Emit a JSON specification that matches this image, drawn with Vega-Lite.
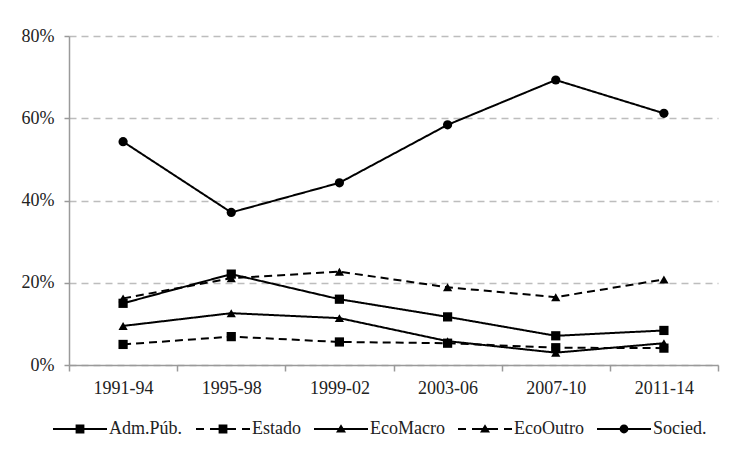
{
  "$schema": "https://vega.github.io/schema/vega-lite/v6.json",
  "width": 649,
  "height": 329,
  "autosize": {"type": "none"},
  "padding": {"left": 69, "top": 36, "right": 13, "bottom": 84},
  "background": "white",
  "config": {"view": {"stroke": null}, "font": "Liberation Serif"},
  "data": {
    "values": [
      {"period": "1991-94", "series": "Adm.Púb.", "value": 0.150},
      {"period": "1995-98", "series": "Adm.Púb.", "value": 0.221},
      {"period": "1999-02", "series": "Adm.Púb.", "value": 0.160},
      {"period": "2003-06", "series": "Adm.Púb.", "value": 0.117},
      {"period": "2007-10", "series": "Adm.Púb.", "value": 0.071},
      {"period": "2011-14", "series": "Adm.Púb.", "value": 0.084},
      {"period": "1991-94", "series": "Estado", "value": 0.050},
      {"period": "1995-98", "series": "Estado", "value": 0.069},
      {"period": "1999-02", "series": "Estado", "value": 0.056},
      {"period": "2003-06", "series": "Estado", "value": 0.053},
      {"period": "2007-10", "series": "Estado", "value": 0.042},
      {"period": "2011-14", "series": "Estado", "value": 0.041},
      {"period": "1991-94", "series": "EcoMacro", "value": 0.095},
      {"period": "1995-98", "series": "EcoMacro", "value": 0.126},
      {"period": "1999-02", "series": "EcoMacro", "value": 0.114},
      {"period": "2003-06", "series": "EcoMacro", "value": 0.058},
      {"period": "2007-10", "series": "EcoMacro", "value": 0.030},
      {"period": "2011-14", "series": "EcoMacro", "value": 0.053},
      {"period": "1991-94", "series": "EcoOutro", "value": 0.162},
      {"period": "1995-98", "series": "EcoOutro", "value": 0.211},
      {"period": "1999-02", "series": "EcoOutro", "value": 0.227},
      {"period": "2003-06", "series": "EcoOutro", "value": 0.189},
      {"period": "2007-10", "series": "EcoOutro", "value": 0.165},
      {"period": "2011-14", "series": "EcoOutro", "value": 0.208},
      {"period": "1991-94", "series": "Socied.", "value": 0.543},
      {"period": "1995-98", "series": "Socied.", "value": 0.371},
      {"period": "1999-02", "series": "Socied.", "value": 0.443},
      {"period": "2003-06", "series": "Socied.", "value": 0.584},
      {"period": "2007-10", "series": "Socied.", "value": 0.693},
      {"period": "2011-14", "series": "Socied.", "value": 0.612}
    ]
  },
  "encoding": {
    "x": {
      "field": "period",
      "type": "ordinal",
      "sort": ["1991-94", "1995-98", "1999-02", "2003-06", "2007-10", "2011-14"],
      "scale": {"type": "band", "paddingInner": 0, "paddingOuter": 0},
      "axis": {
        "title": null,
        "labelAngle": 0,
        "tickBand": "extent",
        "grid": false,
        "domainColor": "#9a9a9a",
        "domainWidth": 1.5,
        "tickColor": "#9a9a9a",
        "tickWidth": 1.5,
        "tickSize": 6,
        "labelPadding": 8,
        "labelFont": "Liberation Serif",
        "labelFontSize": 18,
        "labelColor": "#222222"
      }
    },
    "y": {
      "field": "value",
      "type": "quantitative",
      "scale": {"domain": [0, 0.8], "nice": false},
      "axis": {
        "title": null,
        "values": [0, 0.2, 0.4, 0.6, 0.8],
        "format": ".0%",
        "domainColor": "#9a9a9a",
        "domainWidth": 1.5,
        "tickColor": "#9a9a9a",
        "tickWidth": 1.5,
        "tickSize": 5,
        "labelPadding": 10,
        "labelFont": "Liberation Serif",
        "labelFontSize": 18,
        "labelColor": "#222222",
        "grid": true,
        "gridColor": "#bdbdbd",
        "gridDash": [7, 5],
        "gridWidth": 1.5
      }
    }
  },
  "layer": [
    {
      "mark": {"type": "line", "color": "black", "strokeWidth": 2},
      "encoding": {
        "detail": {"field": "series"},
        "strokeDash": {
          "field": "series",
          "type": "nominal",
          "scale": {
            "domain": ["Adm.Púb.", "Estado", "EcoMacro", "EcoOutro", "Socied."],
            "range": [[1, 0], [8, 5], [1, 0], [8, 5], [1, 0]]
          },
          "legend": null
        }
      }
    },
    {
      "mark": {"type": "point", "filled": true, "color": "black", "opacity": 1, "size": 85},
      "encoding": {
        "shape": {
          "field": "series",
          "type": "nominal",
          "scale": {
            "domain": ["Adm.Púb.", "Estado", "EcoMacro", "EcoOutro", "Socied."],
            "range": ["square", "square", "triangle-up", "triangle-up", "circle"]
          },
          "legend": null
        }
      }
    },
    {
      "mark": {"type": "point", "filled": true, "color": "black", "opacity": 0, "size": 64},
      "encoding": {
        "shape": {
          "field": "series",
          "type": "nominal",
          "scale": {
            "domain": ["Adm.Púb.", "Estado", "EcoMacro", "EcoOutro", "Socied."],
            "range": [
              "M-1,-0.25L12.5,-0.25L12.5,0.25L-1,0.25Z M4.65,-1.1L6.85,-1.1L6.85,1.1L4.65,1.1Z",
              "M-1,-0.25L1,-0.25L1,0.25L-1,0.25Z M2.5,-0.25L9,-0.25L9,0.25L2.5,0.25Z M10.5,-0.25L12.5,-0.25L12.5,0.25L10.5,0.25Z M4.65,-1.1L6.85,-1.1L6.85,1.1L4.65,1.1Z",
              "M-1,-0.25L12.5,-0.25L12.5,0.25L-1,0.25Z M5.75,-1.2L7,0.9L4.5,0.9Z",
              "M-1,-0.25L1,-0.25L1,0.25L-1,0.25Z M2.5,-0.25L9,-0.25L9,0.25L2.5,0.25Z M10.5,-0.25L12.5,-0.25L12.5,0.25L10.5,0.25Z M5.75,-1.2L7,0.9L4.5,0.9Z",
              "M-1,-0.25L12.5,-0.25L12.5,0.25L-1,0.25Z M6.85,0A1.1,1.1 0 1,1 4.65,0A1.1,1.1 0 1,1 6.85,0Z"
            ]
          },
          "legend": {
            "title": null,
            "orient": "none",
            "legendX": -21,
            "legendY": 384,
            "direction": "horizontal",
            "labelFont": "Liberation Serif",
            "labelFontSize": 18,
            "labelColor": "#222222",
            "symbolSize": 64,
            "symbolStrokeWidth": 0,
            "symbolFillColor": "black",
            "symbolOpacity": 1,
            "labelOffset": 43,
            "columnPadding": 8
          }
        }
      }
    }
  ],
  "resolve": {"scale": {"shape": "independent"}}
}
